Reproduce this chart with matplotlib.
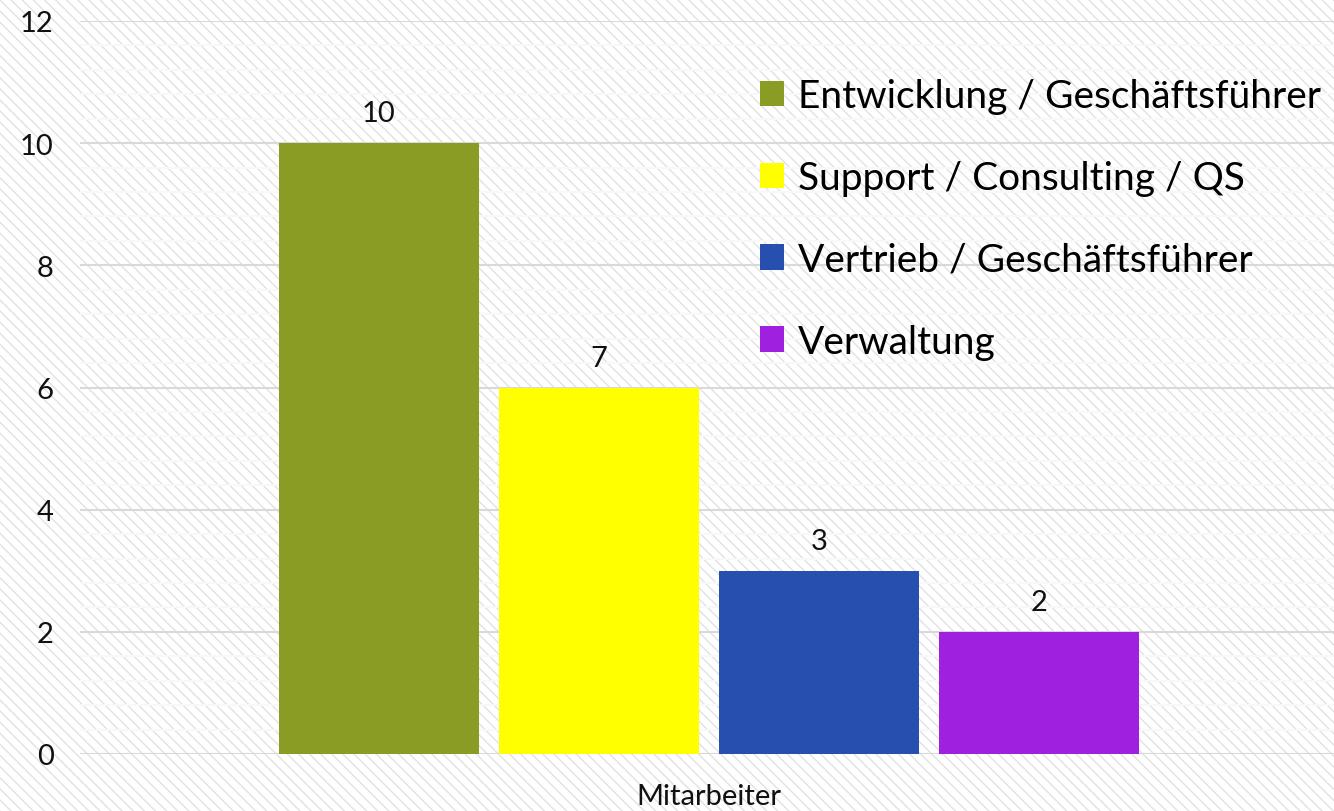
import matplotlib
matplotlib.use("Agg")
import matplotlib.pyplot as plt
from matplotlib.patches import Rectangle
import numpy as np

categories = ["Entwicklung / Geschäftsführer", "Support / Consulting / QS",
              "Vertrieb / Geschäftsführer", "Verwaltung"]
values = [10, 6, 3, 2]
bar_labels = ["10", "7", "3", "2"]
colors = ["#8a9c24", "#ffff00", "#264fb0", "#a020e0"]
group_label = "Mitarbeiter"

plt.rcParams["font.family"] = ["Lato", "DejaVu Sans"]
plt.rcParams["hatch.linewidth"] = 1.0
plt.rcParams["hatch.color"] = "#e2e2e2"

fig = plt.figure(figsize=(13.34, 8.12), dpi=100)
fig.patches.append(Rectangle((0, 0), 1, 1, transform=fig.transFigure, facecolor="white",
                             edgecolor="#e2e2e2", hatch="\\\\\\", linewidth=0, zorder=-10))

ax = fig.add_axes([80 / 1334, 1 - 755 / 812, 1 - 80 / 1334, (755 - 22) / 812])
ax.patch.set_alpha(0)

width = 200
offsets = (np.arange(len(values)) - 1.5) * 220
for off, v, lab, c, name in zip(offsets, values, bar_labels, colors, categories):
    ax.bar(off, v, width=width, color=c, label=name, zorder=3)
    ax.annotate(lab, (off, v), xytext=(0, 12), textcoords="offset points",
                ha="center", va="bottom", fontsize=21, color="#111111")

ax.set_xlim(-629, 625)
ax.set_ylim(0, 12)
ax.set_yticks(np.arange(0, 13, 2))
ax.set_yticks(np.arange(0, 12.01, 0.4), minor=True)
ax.set_xticks([0])
ax.set_xticklabels([group_label])
ax.tick_params(axis="both", length=0, labelsize=21, colors="#111111")
ax.tick_params(axis="y", pad=19)
ax.tick_params(axis="x", pad=21)
ax.tick_params(axis="y", which="minor", length=0)
ax.grid(axis="y", which="major", color="#d9d9d9", linewidth=1.5, zorder=1)
ax.grid(axis="y", which="minor", color="#f8f8f8", linewidth=1.5, zorder=1)
for s in ax.spines.values():
    s.set_visible(False)

ax.legend(loc="upper left", bbox_to_anchor=(760 / 1334, 1 - 79 / 812),
          bbox_transform=fig.transFigure, frameon=False, fontsize=28,
          handlelength=0.62, handleheight=0.62, handletextpad=0.36,
          labelspacing=1.18, borderpad=0, borderaxespad=0)

fig.savefig("out.png", dpi=100)
